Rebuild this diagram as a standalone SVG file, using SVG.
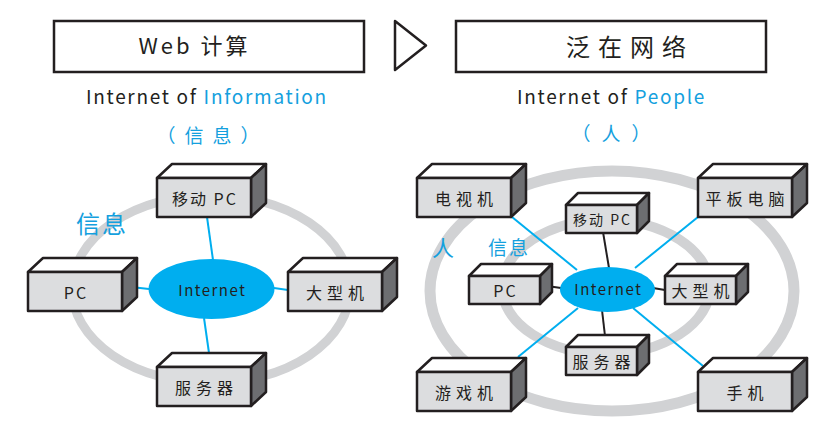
<svg xmlns="http://www.w3.org/2000/svg" xmlns:xlink="http://www.w3.org/1999/xlink" width="837" height="435" viewBox="0 0 837 435">
<style>
  .t { font-family: "Noto Sans CJK SC", "Liberation Sans", sans-serif; fill: #231f20; }
  .blue { fill: #14a0de; }
  .title { font-size: 22px; text-anchor: middle; letter-spacing: 3px; }
  .title2 { font-size: 24px; text-anchor: middle; letter-spacing: 8px; }
  .sub { font-size: 19px; letter-spacing: 1.7px; }
  .par { font-size: 19px; text-anchor: middle; }
  .lbl { font-size: 16px; text-anchor: middle; dominant-baseline: central; letter-spacing: 5px; }
  .lbl2 { font-size: 16px; text-anchor: middle; dominant-baseline: central; letter-spacing: 2px; }
  .slbl2 { font-size: 14px; text-anchor: middle; dominant-baseline: central; letter-spacing: 2px; }
  .nlbl { font-size: 15px; text-anchor: middle; dominant-baseline: central; letter-spacing: 1.5px; }
  .frame { fill: #ffffff; stroke: #231f20; stroke-width: 2.5; }
  .ring { fill: none; stroke: #d1d2d4; }
  .net { fill: #00aeef; }
  .bl { stroke: #00aeef; stroke-width: 2; fill: none; }
  .kl { stroke: #231f20; stroke-width: 2; fill: none; }
  .front { fill: #dcdddf; stroke: #231f20; stroke-width: 2.5; stroke-linejoin: round; }
  .top { fill: #ffffff; stroke: #231f20; stroke-width: 2.5; stroke-linejoin: round; }
  .side { fill: #6d6e71; stroke: #231f20; stroke-width: 2.5; stroke-linejoin: round; }
</style>
<defs>
  <g id="bigBox">
    <polygon class="top" points="0,0 15,-14 109,-14 94,0"/>
    <polygon class="side" points="94,0 109,-14 109,25 94,39"/>
    <rect class="front" x="0" y="0" width="94" height="39"/>
  </g>
  <g id="smallBox">
    <polygon class="top" points="0,0 12,-12 83,-12 71,0"/>
    <polygon class="side" points="71,0 83,-12 83,16 71,28"/>
    <rect class="front" x="0" y="0" width="71" height="28"/>
  </g>
</defs>
<rect width="837" height="435" fill="#ffffff"/>

<!-- Headers -->
<g id="title-left">
  <rect class="frame" x="54" y="21" width="310" height="51"/>
  <text class="t title" x="194.5" y="54">Web 计算</text>
</g>
<g id="arrow">
  <polygon points="395,21 426,45.5 395,70" fill="#ffffff" stroke="#231f20" stroke-width="2.5" stroke-linejoin="round"/>
</g>
<g id="title-right">
  <rect class="frame" x="456" y="21" width="310" height="51"/>
  <text class="t title2" x="630" y="56">泛在网络</text>
</g>
<g id="subtitle-left">
  <text class="t sub" x="86" y="104">Internet of <tspan class="blue">Information</tspan></text>
  <text class="t par blue" x="212.5" y="143" letter-spacing="9">（信息）</text>
</g>
<g id="subtitle-right">
  <text class="t sub" x="517" y="104">Internet of <tspan class="blue">People</tspan></text>
  <text class="t par blue" x="616.5" y="141" letter-spacing="11">（人）</text>
</g>

<!-- Rings -->
<ellipse class="ring" cx="211" cy="289" rx="139" ry="94" stroke-width="9"/>
<ellipse class="ring" cx="612" cy="291" rx="182" ry="120" stroke-width="11"/>
<ellipse class="ring" cx="606" cy="287" rx="104" ry="67" stroke-width="10"/>

<!-- Connectors -->
<g id="connectors">
  <line class="bl" x1="207" y1="217" x2="213" y2="260"/>
  <line class="bl" x1="122" y1="286" x2="149" y2="289"/>
  <line class="bl" x1="274" y1="288" x2="288" y2="290"/>
  <line class="bl" x1="204" y1="318" x2="209" y2="353"/>
  <line class="bl" x1="512" y1="217" x2="577" y2="270"/>
  <line class="bl" x1="698" y1="217" x2="635" y2="268"/>
  <line class="bl" x1="518" y1="357" x2="578" y2="308"/>
  <line class="bl" x1="633" y1="308" x2="703" y2="366"/>
  <line class="kl" x1="603" y1="232" x2="609" y2="268"/>
  <line class="kl" x1="602" y1="310" x2="605" y2="336"/>
  <line class="kl" x1="540" y1="285" x2="561" y2="288"/>
  <line class="kl" x1="653" y1="288" x2="665" y2="290"/>
</g>

<!-- Left diagram -->
<g id="internet-left">
  <ellipse class="net" cx="211.5" cy="289" rx="63" ry="30"/>
  <text class="t nlbl" x="212.3" y="289">Internet</text>
</g>
<g id="mobile-pc-left">
  <use xlink:href="#bigBox" x="157" y="178"/>
  <text class="t lbl2" x="205" y="197.5">移动 PC</text>
</g>
<g id="pc-left">
  <use xlink:href="#bigBox" x="28" y="272"/>
  <text class="t lbl2" x="76" y="291.5">PC</text>
</g>
<g id="mainframe-left">
  <use xlink:href="#bigBox" x="288" y="272"/>
  <text class="t lbl" x="337.5" y="291.5">大型机</text>
</g>
<g id="server-left">
  <use xlink:href="#bigBox" x="157" y="367"/>
  <text class="t lbl" x="206.5" y="386.5">服务器</text>
</g>
<g id="label-info-left">
  <text class="t blue" x="102" y="233" font-size="24" text-anchor="middle" letter-spacing="2">信息</text>
</g>

<!-- Right diagram -->
<g id="internet-right">
  <ellipse class="net" cx="607.5" cy="289.5" rx="47.5" ry="22.5"/>
  <text class="t nlbl" x="608.3" y="288">Internet</text>
</g>
<g id="tv">
  <use xlink:href="#bigBox" x="417" y="178"/>
  <text class="t lbl" x="466.5" y="197.5">电视机</text>
</g>
<g id="tablet">
  <use xlink:href="#bigBox" x="698" y="178"/>
  <text class="t lbl" x="747.5" y="197.5">平板电脑</text>
</g>
<g id="console">
  <use xlink:href="#bigBox" x="417" y="372"/>
  <text class="t lbl" x="466.5" y="391.5">游戏机</text>
</g>
<g id="phone">
  <use xlink:href="#bigBox" x="698" y="372"/>
  <text class="t lbl" x="747.5" y="391.5">手机</text>
</g>
<g id="mobile-pc-right">
  <use xlink:href="#smallBox" x="566" y="205"/>
  <text class="t slbl2" x="602.5" y="219">移动 PC</text>
</g>
<g id="pc-right">
  <use xlink:href="#smallBox" x="469" y="276"/>
  <text class="t lbl2" x="505.5" y="290">PC</text>
</g>
<g id="mainframe-right">
  <use xlink:href="#smallBox" x="665" y="276"/>
  <text class="t lbl" x="703" y="290">大型机</text>
</g>
<g id="server-right">
  <use xlink:href="#smallBox" x="566" y="347"/>
  <text class="t lbl" x="604" y="361">服务器</text>
</g>
<g id="label-people">
  <text class="t blue" x="443" y="256" font-size="22" text-anchor="middle">人</text>
</g>
<g id="label-info-right">
  <text class="t blue" x="509" y="255" font-size="19" text-anchor="middle" letter-spacing="2">信息</text>
</g>
</svg>
